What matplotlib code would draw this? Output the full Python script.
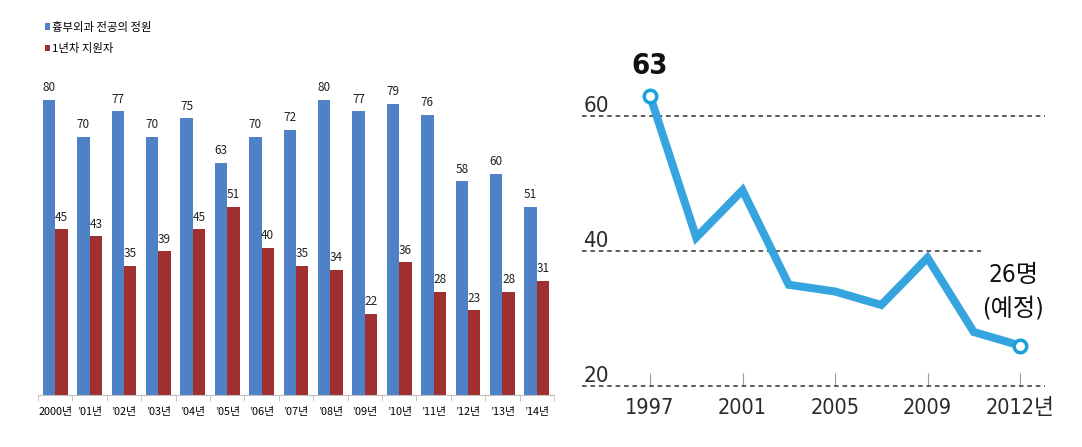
import numpy as np
import matplotlib
matplotlib.use("Agg")
import matplotlib.pyplot as plt

plt.rcParams['font.family'] = ['Noto Sans CJK KR', 'DejaVu Sans']

# left chart data
bar_labels = ["2000년", "’01년", "’02년", "’03년", "’04년", "’05년", "’06년", "’07년",
              "’08년", "’09년", "’10년", "’11년", "’12년", "’13년", "’14년"]
quota = [80, 70, 77, 70, 75, 63, 70, 72, 80, 77, 79, 76, 58, 60, 51]
applicants = [45, 43, 35, 39, 45, 51, 40, 35, 34, 22, 36, 28, 23, 28, 31]
series_names = ["흉부외과 전공의 정원", "1년차 지원자"]

# right chart data
years = [1997, 1999, 2001, 2003, 2005, 2007, 2009, 2011, 2012]
counts = [63, 42, 49, 35, 34, 32, 39, 28, 26]
shown_years = [1997, 2001, 2005, 2009, 2012]
shown_labels = ["1997", "2001", "2005", "2009", "2012년"]
y_ticks = [20, 40, 60]

W, H = 1082, 447
fig = plt.figure(figsize=(W / 100, H / 100), dpi=100)

# ---- bar chart
ax1 = fig.add_axes([38 / W, (H - 395) / H, (554 - 38) / W, 324.5 / H])
blue = "#4f81c7"
red = "#a0302f"
x = np.arange(len(bar_labels))
bw = 0.36
b1 = ax1.bar(x - bw / 2, quota, bw, color=blue, label=series_names[0])
b2 = ax1.bar(x + bw / 2, applicants, bw, color=red, label=series_names[1])
for bars in (b1, b2):
    ax1.bar_label(bars, padding=4, fontsize=8.5, color="#222222")
ax1.set_xlim(-0.5, len(bar_labels) - 0.5)
ax1.set_ylim(0, 88)
ax1.set_yticks([])
for s in ["left", "right", "top"]:
    ax1.spines[s].set_visible(False)
ax1.spines["bottom"].set_color("#bfbfbf")
ax1.set_xticks(x)
ax1.set_xticklabels(bar_labels, fontsize=7.8)
ax1.tick_params(axis="x", which="major", length=0, pad=9)
ax1.set_xticks(np.arange(len(bar_labels) + 1) - 0.5, minor=True)
ax1.tick_params(axis="x", which="minor", length=4, color="#bfbfbf")
ax1.legend(loc="upper left", bbox_to_anchor=(40 / W, 1 - 17 / H), bbox_transform=fig.transFigure,
           frameon=False, fontsize=8.2, handlelength=0.45, handleheight=0.45,
           handletextpad=0.2, labelspacing=0.9, borderaxespad=0)

# ---- line chart
narrow = ['DejaVu Sans', 'Noto Sans CJK KR']
ax2 = fig.add_axes([582 / W, (H - 386) / H, (1045 - 582) / W, (386 - 48.5) / H])
xi = np.arange(len(years))
line_col = "#36a4df"
ax2.plot(xi, counts, color=line_col, lw=5.8, solid_joinstyle="miter", zorder=3)
ax2.plot([xi[0], xi[-1]], [counts[0], counts[-1]], "o", ms=9, mfc="white",
         mec="#1aa0dc", mew=2.5, zorder=4)
ax2.set_xlim((582 - 650) / 46.25, (1045 - 650) / 46.25)
ax2.set_ylim(20, 70)
for s in ax2.spines.values():
    s.set_visible(False)
ax2.axhline(60, color="#333333", lw=1.1, ls=(0, (3, 2.5)))
ax2.axhline(20, color="#333333", lw=1.1, ls=(0, (3, 2.5)), clip_on=False)
ax2.hlines(40, ax2.get_xlim()[0], 7.15, color="#333333", lw=1.1, ls=(0, (3, 2.5)))

ax2.set_yticks(y_ticks)
ax2.set_yticklabels([str(v) for v in y_ticks], family=narrow, stretch="condensed",
                    fontsize=16, color="#2a2a2a")
ax2.tick_params(axis="y", length=0, pad=-1)
for lbl in ax2.get_yticklabels():
    lbl.set_ha("left")
    lbl.set_va("bottom")

ax2.set_xticks([years.index(y) for y in shown_years])
ax2.set_xticklabels(shown_labels, family=narrow, stretch="condensed", fontsize=15.5, color="#2a2a2a")
ax2.tick_params(axis="x", direction="in", length=9.5, width=0.8, color="#999999", pad=9)

ax2.annotate(str(counts[0]), (xi[0], counts[0]), xytext=(0, 11), textcoords="offset points",
             ha="center", va="bottom", family=narrow, stretch="condensed", fontsize=21,
             fontweight="bold", color="#111111")
ax2.annotate(f"{counts[-1]}명\n(예정)", (xi[-1], counts[-1]), xytext=(-5, 18), textcoords="offset points",
             ha="center", va="bottom", family=narrow, stretch="condensed", fontsize=17.5,
             color="#111111", linespacing=1.5)

fig.savefig("out.png", dpi=100)
